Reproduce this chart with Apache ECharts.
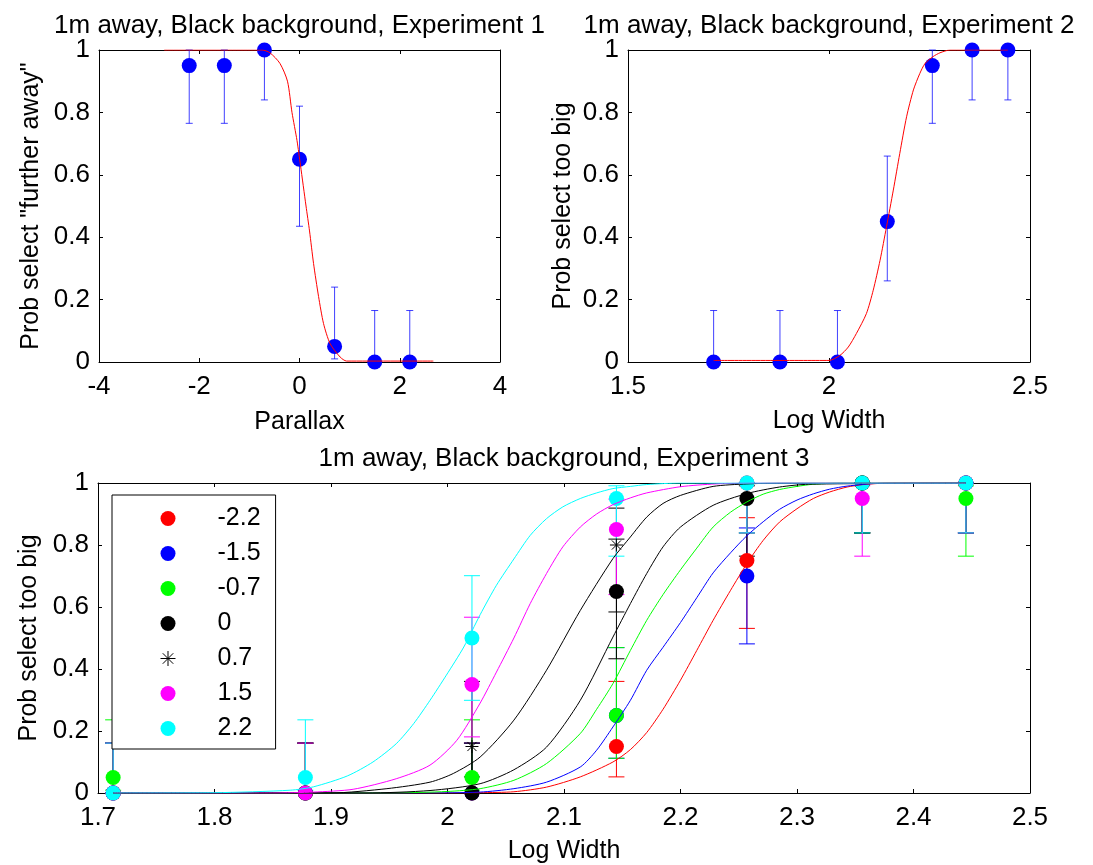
<!DOCTYPE html>
<html>
<head>
<meta charset="utf-8">
<script src="https://cdn.jsdelivr.net/npm/echarts/dist/echarts.min.js"></script>
<style>
    html, body { margin: 0; padding: 0; background: #fff; }
    #chart { width: 1093px; height: 865px; }
</style>
</head>
<body>
<div id="chart"></div>
<script>
// ---- Experiment 1: parallax ----
const parallax = [-2.2, -1.5, -0.7, 0, 0.7, 1.5, 2.2];
const exp1Prob = [0.95, 0.95, 1, 0.65, 0.05, 0, 0];
const exp1Low = [0.765, 0.765, 0.84, 0.435, 0.01, 0, 0];
const exp1High = [1, 1, 1, 0.82, 0.24, 0.165, 0.165];
const exp1FitX = [-2.7, -0.75, -0.59, -0.39, -0.24, -0.15, -0.05, 0.02, 0.13, 0.2, 0.28, 0.38, 0.48, 0.61, 0.81, 0.94, 2.67];
const exp1FitY = [1, 1, 0.991, 0.957, 0.9, 0.8, 0.71, 0.63, 0.5, 0.42, 0.316, 0.21, 0.123, 0.059, 0.016, 0.003, 0.003];

// ---- Experiment 2: log width ----
const logWidth = [1.713, 1.878, 2.021, 2.145, 2.257, 2.356, 2.445];
const exp2Prob = [0, 0, 0, 0.45, 0.95, 1, 1];
const exp2Low = [0, 0, 0, 0.26, 0.765, 0.84, 0.84];
const exp2High = [0.165, 0.165, 0.165, 0.66, 1, 1, 1];
const exp2FitX = [1.713, 2.0, 2.027, 2.048, 2.068, 2.093, 2.11, 2.127, 2.143, 2.16, 2.176, 2.193, 2.21, 2.226, 2.239, 2.259, 2.276, 2.301, 2.445];
const exp2FitY = [0.005, 0.005, 0.021, 0.048, 0.091, 0.155, 0.23, 0.326, 0.433, 0.551, 0.668, 0.786, 0.872, 0.925, 0.957, 0.979, 0.991, 1, 1];

// ---- Experiment 3: one series per parallax level ----
const levelNames = ['-2.2', '-1.5', '-0.7', '0', '0.7', '1.5', '2.2'];

const probM22 = [0, 0, 0, 0.15, 0.75, 1, 1];
const lowM22 = [0, 0, 0, 0.052, 0.531, 0.839, 0.839];
const highM22 = [0.161, 0.161, 0.161, 0.36, 0.888, 1, 1];
const probM15 = [0, 0, 0, 0.25, 0.7, 1, 1];
const lowM15 = [0, 0, 0, 0.112, 0.481, 0.839, 0.839];
const highM15 = [0.161, 0.161, 0.161, 0.469, 0.855, 1, 1];
const probM07 = [0.05, 0, 0.05, 0.25, 1, 1, 0.95];
const lowM07 = [0.009, 0, 0.009, 0.112, 0.839, 0.839, 0.764];
const highM07 = [0.236, 0.161, 0.236, 0.469, 1, 1, 0.991];
const prob00 = [0, 0, 0, 0.65, 0.95, 1, 1];
const low00 = [0, 0, 0, 0.433, 0.764, 0.839, 0.839];
const high00 = [0.161, 0.161, 0.161, 0.819, 0.991, 1, 1];
const probP07 = [0, 0, 0.15, 0.8, 1, 1, 1];
const lowP07 = [0, 0, 0.052, 0.584, 0.839, 0.839, 0.839];
const highP07 = [0.161, 0.161, 0.36, 0.919, 1, 1, 1];
const probP15 = [0, 0, 0.35, 0.85, 1, 0.95, 1];
const lowP15 = [0, 0, 0.181, 0.64, 0.839, 0.764, 0.839];
const highP15 = [0.161, 0.161, 0.567, 0.948, 1, 0.991, 1];
const probP22 = [0, 0.05, 0.5, 0.95, 1, 1, 1];
const lowP22 = [0, 0.009, 0.299, 0.764, 0.839, 0.839, 0.839];
const highP22 = [0.161, 0.236, 0.701, 0.991, 1, 1, 1];

// fitted curves
const fitXM22 = [1.713, 2.0, 2.028, 2.057, 2.085, 2.114, 2.142, 2.157, 2.171, 2.185, 2.2, 2.214, 2.228, 2.243, 2.257, 2.271, 2.285, 2.3, 2.314, 2.328, 2.343, 2.357, 2.38, 2.445];
const fitYM22 = [0, 0, 0.001, 0.004, 0.019, 0.052, 0.1, 0.14, 0.195, 0.27, 0.364, 0.46, 0.557, 0.654, 0.74, 0.815, 0.874, 0.917, 0.95, 0.971, 0.987, 0.995, 1, 1];
const fitXM15 = [1.713, 1.98, 2.028, 2.057, 2.085, 2.114, 2.128, 2.142, 2.157, 2.171, 2.185, 2.2, 2.214, 2.228, 2.243, 2.257, 2.271, 2.285, 2.3, 2.314, 2.328, 2.343, 2.37, 2.445];
const fitYM15 = [0, 0, 0.003, 0.014, 0.035, 0.084, 0.138, 0.213, 0.299, 0.396, 0.47, 0.55, 0.63, 0.71, 0.775, 0.83, 0.875, 0.915, 0.945, 0.965, 0.98, 0.99, 0.999, 1];
const fitXM07 = [1.713, 1.95, 2.0, 2.028, 2.057, 2.085, 2.114, 2.128, 2.142, 2.157, 2.171, 2.185, 2.2, 2.214, 2.228, 2.243, 2.257, 2.271, 2.285, 2.3, 2.314, 2.34, 2.445];
const fitYM07 = [0, 0, 0.005, 0.014, 0.041, 0.095, 0.192, 0.27, 0.353, 0.46, 0.557, 0.64, 0.72, 0.79, 0.858, 0.906, 0.939, 0.964, 0.979, 0.989, 0.996, 1, 1];
const fitX00 = [1.713, 1.93, 1.985, 2.028, 2.057, 2.085, 2.114, 2.142, 2.157, 2.171, 2.185, 2.2, 2.228, 2.257, 2.285, 2.31, 2.445];
const fitY00 = [0, 0, 0.008, 0.03, 0.075, 0.148, 0.299, 0.503, 0.611, 0.708, 0.794, 0.858, 0.928, 0.966, 0.987, 0.996, 1];
const fitXP07 = [1.713, 1.9, 1.948, 1.985, 2.005, 2.028, 2.057, 2.085, 2.114, 2.142, 2.157, 2.171, 2.185, 2.2, 2.228, 2.257, 2.29, 2.445];
const fitYP07 = [0, 0, 0.014, 0.035, 0.063, 0.116, 0.235, 0.396, 0.589, 0.756, 0.826, 0.89, 0.934, 0.96, 0.989, 0.997, 1, 1];
const fitXP15 = [1.713, 1.85, 1.885, 1.919, 1.956, 1.985, 2.008, 2.028, 2.042, 2.057, 2.071, 2.085, 2.099, 2.114, 2.128, 2.142, 2.157, 2.171, 2.2, 2.23, 2.26, 2.445];
const fitYP15 = [0, 0, 0.003, 0.012, 0.046, 0.09, 0.17, 0.29, 0.39, 0.5, 0.611, 0.708, 0.794, 0.858, 0.9, 0.93, 0.952, 0.968, 0.988, 0.997, 1, 1];
const fitXP22 = [1.713, 1.8, 1.865, 1.885, 1.914, 1.936, 1.956, 1.971, 1.985, 1.999, 2.014, 2.028, 2.042, 2.057, 2.071, 2.085, 2.099, 2.114, 2.128, 2.142, 2.157, 2.171, 2.2, 2.445];
const fitYP22 = [0, 0.001, 0.009, 0.02, 0.055, 0.1, 0.159, 0.224, 0.299, 0.38, 0.471, 0.575, 0.67, 0.755, 0.831, 0.885, 0.923, 0.95, 0.968, 0.982, 0.989, 0.995, 1, 1];

const exp3Prob = [probM22, probM15, probM07, prob00, probP07, probP15, probP22];
const exp3Low = [lowM22, lowM15, lowM07, low00, lowP07, lowP15, lowP22];
const exp3High = [highM22, highM15, highM07, high00, highP07, highP15, highP22];
const exp3FitX = [fitXM22, fitXM15, fitXM07, fitX00, fitXP07, fitXP15, fitXP22];
const exp3FitY = [fitYM22, fitYM15, fitYM07, fitY00, fitYP07, fitYP15, fitYP22];

// styles
const levelColors = ['#ff0000', '#0000ff', '#00ff00', '#000000', '#000000', '#ff00ff', '#00ffff'];
const ASTERISK = 'path://M10 0 L10 20 M0 10 L20 10 M3 3 L17 17 M3 17 L17 3';
const FONT = "'Liberation Sans', Arial, sans-serif";
const txt = { color: '#000', fontSize: 25, fontFamily: FONT };
const tickTxt = { color: '#000', fontSize: 26, fontFamily: FONT };
const titleTxt = { color: '#000', fontSize: 26, fontFamily: FONT };

function zip(xs, ys) { return xs.map((x, i) => [x, ys[i]]); }
function zip3(xs, a, b) { return xs.map((x, i) => [x, a[i], b[i]]); }

function errorBarRenderer(capHalf) {
    return function (params, api) {
        const x = api.value(0);
        const lo = api.coord([x, api.value(1)]);
        const hi = api.coord([x, api.value(2)]);
        const style = { stroke: api.visual('color'), lineWidth: 1 };
        return {
            type: 'group',
            children: [
                { type: 'line', shape: { x1: lo[0], y1: lo[1], x2: hi[0], y2: hi[1] }, style },
                { type: 'line', shape: { x1: hi[0] - capHalf, y1: hi[1], x2: hi[0] + capHalf, y2: hi[1] }, style },
                { type: 'line', shape: { x1: lo[0] - capHalf, y1: lo[1], x2: lo[0] + capHalf, y2: lo[1] }, style }
            ]
        };
    };
}

function boxAxes(grid, min, max, interval, name, nameGap, title, titleGap, isY) {
    const base = {
        type: 'value', gridIndex: grid, min: min, max: max, interval: interval,
        splitLine: { show: false },
        axisLine: { onZero: false, lineStyle: { color: '#000', width: 1 } },
        axisTick: { inside: true, length: 4, lineStyle: { color: '#000' } }
    };
    const main = Object.assign({}, base, {
        position: isY ? 'left' : 'bottom',
        name: name, nameLocation: 'middle', nameGap: nameGap, nameTextStyle: txt,
        axisLabel: Object.assign({ margin: isY ? 9 : 12 }, tickTxt)
    });
    const twin = Object.assign({}, base, {
        position: isY ? 'right' : 'top',
        axisLabel: { show: false }
    });
    if (title) {
        twin.name = title;
        twin.nameLocation = 'middle';
        twin.nameGap = titleGap;
        twin.nameTextStyle = titleTxt;
    }
    return [main, twin];
}

const xAxes = [].concat(
    boxAxes(0, -4, 4, 2, 'Parallax', 48, '1m away, Black background, Experiment 1', 11, false),
    boxAxes(1, 1.5, 2.5, 0.5, 'Log Width', 47, '1m away, Black background, Experiment 2', 11, false),
    boxAxes(2, 1.7, 2.5, 0.1, 'Log Width', 46, '1m away, Black background, Experiment 3', 11, false)
);
const yAxes = [].concat(
    boxAxes(0, 0, 1, 0.2, 'Prob select "further away"', 55, null, 0, true),
    boxAxes(1, 0, 1, 0.2, 'Prob select too big', 52, null, 0, true),
    boxAxes(2, 0, 1, 0.2, 'Prob select too big', 55, null, 0, true)
);

const series = [];

// top panels
[
    { ax: 0, xs: parallax, p: exp1Prob, lo: exp1Low, hi: exp1High, fx: exp1FitX, fy: exp1FitY },
    { ax: 2, xs: logWidth, p: exp2Prob, lo: exp2Low, hi: exp2High, fx: exp2FitX, fy: exp2FitY }
].forEach(function (d, k) {
    series.push({
        name: 'err' + k, type: 'custom', xAxisIndex: d.ax, yAxisIndex: d.ax,
        renderItem: errorBarRenderer(3.5), itemStyle: { color: 'rgba(0,0,255,0.75)' },
        encode: { x: 0, y: [1, 2] }, data: zip3(d.xs, d.lo, d.hi), silent: true
    });
    series.push({
        name: 'pts' + k, type: 'scatter', xAxisIndex: d.ax, yAxisIndex: d.ax,
        symbol: 'circle', symbolSize: 15, itemStyle: { color: '#0000ff', opacity: 1 },
        data: zip(d.xs, d.p), silent: true
    });
    series.push({
        name: 'fit' + k, type: 'line', xAxisIndex: d.ax, yAxisIndex: d.ax,
        showSymbol: false, smooth: 0.25,
        lineStyle: { color: '#ff0000', width: 1 },
        data: zip(d.fx, d.fy), silent: true
    });
});

// bottom panel: error bars + markers per level, then the fitted curves
levelNames.forEach(function (name, i) {
    const isStar = i === 4;
    series.push({
        name: 'err ' + name, type: 'custom', xAxisIndex: 4, yAxisIndex: 4,
        renderItem: errorBarRenderer(8), itemStyle: { color: levelColors[i] },
        encode: { x: 0, y: [1, 2] }, data: zip3(logWidth, exp3Low[i], exp3High[i]), silent: true
    });
    series.push({
        name: name, type: 'scatter', xAxisIndex: 4, yAxisIndex: 4,
        symbol: isStar ? ASTERISK : 'circle', symbolSize: isStar ? 13 : 15,
        itemStyle: isStar
            ? { color: 'rgba(0,0,0,0)', borderColor: '#000', borderWidth: 1, opacity: 1 }
            : { color: levelColors[i], opacity: 1 },
        data: zip(logWidth, exp3Prob[i]), silent: true
    });
});
levelNames.forEach(function (name, i) {
    series.push({
        name: 'fit ' + name, type: 'line', xAxisIndex: 4, yAxisIndex: 4,
        showSymbol: false, smooth: 0.25,
        lineStyle: { color: levelColors[i], width: 1 },
        data: zip(exp3FitX[i], exp3FitY[i]), silent: true
    });
});

const chart = echarts.init(document.getElementById('chart'));
chart.setOption({
    animation: false,
    backgroundColor: '#fff',
    textStyle: { fontFamily: FONT },
    grid: [
        { left: 99, top: 50, width: 401, height: 312, outerBoundsMode: 'none', containLabel: false },
        { left: 628, top: 50, width: 402, height: 312, outerBoundsMode: 'none', containLabel: false },
        { left: 98, top: 483, width: 932, height: 310, outerBoundsMode: 'none', containLabel: false }
    ],
    xAxis: xAxes,
    yAxis: yAxes,
    legend: {
        orient: 'vertical', left: 112, top: 495,
        padding: [11, 15, 8, 48],
        itemWidth: 15, itemHeight: 15, itemGap: 10,
        backgroundColor: '#fff', borderColor: '#000', borderWidth: 1, borderRadius: 0,
        selectedMode: false,
        formatter: '{t|{name}}',
        textStyle: {
            rich: { t: { padding: [0, 0, 0, 37], fontSize: 25, lineHeight: 24, color: '#000', fontFamily: FONT } }
        },
        data: levelNames.map(function (name, i) {
            return i === 4
                ? { name: name, icon: ASTERISK, itemStyle: { color: 'rgba(0,0,0,0)', borderColor: '#000', borderWidth: 1 } }
                : { name: name, icon: 'circle', itemStyle: { color: levelColors[i], borderWidth: 0 } };
        })
    },
    series: series
});
</script>
</body>
</html>
